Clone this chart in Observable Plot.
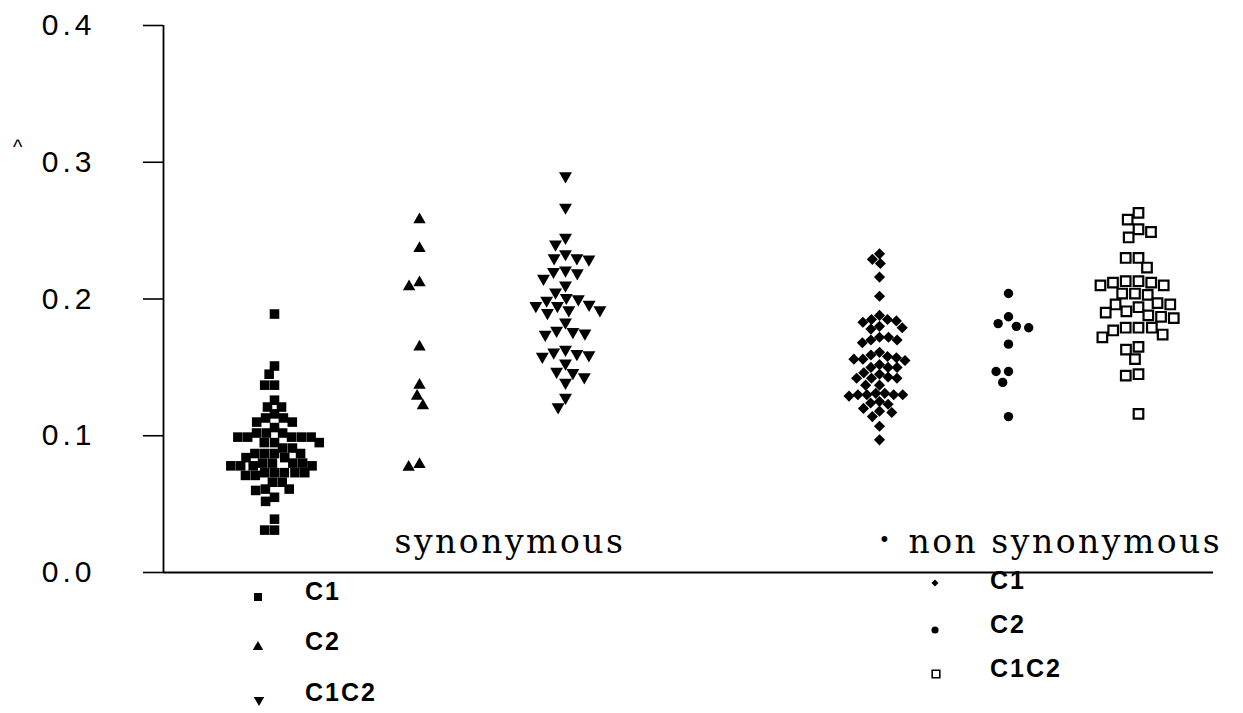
<!DOCTYPE html>
<html>
<head>
<meta charset="utf-8">
<script src="https://cdn.jsdelivr.net/npm/d3@7"></script>
<script src="https://cdn.jsdelivr.net/npm/@observablehq/plot@0.6"></script>
<style>
  body { margin: 0; background: #fff; }
  #wrap { position: relative; width: 1243px; height: 713px; overflow: hidden; background: #fff;
          font-family: "Liberation Sans", Arial, sans-serif; }
  #wrap svg.plot { position: absolute; left: 0; top: 0; }
  #wrap svg.plot g[font-family*="DejaVu Serif"] text { letter-spacing: 2.5px; }
  .leg { position: absolute; font-weight: bold; font-size: 25px; letter-spacing: 2px; line-height: 25px; color: #000; }
  .legsym { position: absolute; overflow: visible; }
  .hat { position: absolute; font-size: 20px; color: #000; }
</style>
</head>
<body>
<div id="wrap"></div>
<script>
// ---------- data ----------
const groups = ["synonymous", "non synonymous"];
const classes = ["C1", "C2", "C1C2"];
const yTicks = [0, 0.1, 0.2, 0.3, 0.4];

const synC1 = [0.189, 0.151, 0.145, 0.137, 0.137, 0.126, 0.121, 0.121, 0.116, 0.113, 0.113, 0.110, 0.110, 0.106,
  0.102, 0.102, 0.102, 0.099, 0.099, 0.099, 0.099, 0.099, 0.095, 0.095, 0.095, 0.091, 0.091, 0.087, 0.087, 0.087,
  0.087, 0.084, 0.084, 0.080, 0.080, 0.080, 0.080, 0.078, 0.078, 0.078, 0.078, 0.073, 0.073, 0.073, 0.073, 0.073,
  0.071, 0.071, 0.066, 0.066, 0.061, 0.061, 0.060, 0.055, 0.052, 0.039, 0.031, 0.031];
const synC2 = [0.258, 0.237, 0.212, 0.209, 0.165, 0.137, 0.129, 0.122, 0.079, 0.077];
const synC1C2 = [0.290, 0.267, 0.245, 0.240, 0.233, 0.230, 0.230, 0.229, 0.221, 0.220, 0.219, 0.215, 0.210, 0.205,
  0.201, 0.200, 0.199, 0.196, 0.195, 0.195, 0.192, 0.192, 0.190, 0.183, 0.177, 0.176, 0.175, 0.174, 0.163, 0.161,
  0.160, 0.159, 0.158, 0.153, 0.147, 0.146, 0.143, 0.139, 0.128, 0.121];
const nonC1 = [0.233, 0.229, 0.226, 0.216, 0.202, 0.188, 0.185, 0.185, 0.184, 0.183, 0.180, 0.179, 0.178, 0.172,
  0.172, 0.170, 0.170, 0.168, 0.161, 0.159, 0.158, 0.157, 0.156, 0.156, 0.155, 0.152, 0.150, 0.150, 0.150, 0.146,
  0.145, 0.143, 0.142, 0.142, 0.142, 0.137, 0.137, 0.131, 0.131, 0.130, 0.130, 0.130, 0.130, 0.129, 0.125, 0.124,
  0.123, 0.120, 0.118, 0.117, 0.114, 0.107, 0.097];
const nonC2 = [0.204, 0.187, 0.182, 0.180, 0.179, 0.167, 0.147, 0.147, 0.139, 0.114];
const nonC1C2 = [0.263, 0.258, 0.251, 0.249, 0.245, 0.230, 0.230, 0.223, 0.213, 0.213, 0.212, 0.212, 0.210, 0.210,
  0.204, 0.204, 0.203, 0.197, 0.196, 0.196, 0.194, 0.191, 0.190, 0.188, 0.187, 0.186, 0.179, 0.179, 0.179, 0.177,
  0.174, 0.172, 0.165, 0.163, 0.156, 0.145, 0.144, 0.116];

const seriesByKey = {
  "synonymous|C1": synC1, "synonymous|C2": synC2, "synonymous|C1C2": synC1C2,
  "non synonymous|C1": nonC1, "non synonymous|C2": nonC2, "non synonymous|C1C2": nonC1C2
};

// ---------- table built from the arrays ----------
const rows = [];
for (const g of groups) for (const c of classes) {
  const key = g + "|" + c;
  for (const v of seriesByKey[key]) rows.push({key, group: g, cls: c, v});
}
const keyList = groups.map(g => classes.map(c => g + "|" + c));
const fxDomain = [...keyList[0], "gap", ...keyList[1]];

// ---------- styles ----------
const sqrt3 = Math.sqrt(3);
const triangleDown = {
  draw(context, size) {
    const y = Math.sqrt(size / (sqrt3 * 3));
    context.moveTo(0, y * 2);
    context.lineTo(-sqrt3 * y, -y);
    context.lineTo(sqrt3 * y, -y);
    context.closePath();
  }
};
const markStyle = {
  "synonymous|C1":       {symbol: "square",   r: 5.4, fill: "black", stroke: "none", sw: 0,   pad: -1, dx: 36},
  "synonymous|C2":       {symbol: "triangle", r: 4.6, fill: "black", stroke: "none", sw: 0,   pad: 2, dx: 31},
  "synonymous|C1C2":     {symbol: triangleDown, r: 4.8, fill: "black", stroke: "none", sw: 0, pad: 2.5, dx: 27},
  "non synonymous|C1":   {symbol: "diamond2", r: 5.0, fill: "black", stroke: "none", sw: 0,   pad: -1, dx: 41},
  "non synonymous|C2":   {symbol: "circle",   r: 4.7, fill: "black", stroke: "none", sw: 0,   pad: 3, dx: 20},
  "non synonymous|C1C2": {symbol: "square",   r: 5.4, fill: "white", stroke: "black", sw: 2.2, pad: 2, dx: 0}
};

const dotMarks = fxDomain.filter(k => markStyle[k]).map(k => {
  const s = markStyle[k];
  return Plot.dot(rows.filter(d => d.key === k), Plot.dodgeX({
    anchor: "middle", padding: s.pad,
    fx: "key", y: "v", r: s.r, symbol: s.symbol,
    fill: s.fill, stroke: s.stroke, strokeWidth: s.sw, dx: s.dx
  }));
});

const groupLabels = [
  {key: "synonymous|C2", text: "synonymous", dx: 81, dy: -20, size: 33},
  {key: "non synonymous|C1", text: "\u2022", dx: 115, dy: -26, size: 20},
  {key: "non synonymous|C1", text: "non synonymous", dx: 145, dy: -20, size: 33}
];

const chart = Plot.plot({
  width: 1243,
  height: 578,
  marginTop: 25,
  marginBottom: 6,
  marginLeft: 160,
  marginRight: 28,
  style: {
    background: "white",
    fontFamily: "'Liberation Sans', Arial, sans-serif",
    fontSize: "30px",
    letterSpacing: "4px",
    overflow: "visible",
    color: "black"
  },
  fx: {domain: fxDomain, axis: null, padding: 0, label: null},
  x: {domain: [0, 1], axis: null},
  y: {domain: [0, 0.4], axis: null},
  marks: [
    Plot.ruleY(fxDomain.map(k => ({key: k})), {fx: "key", y: () => 0, stroke: "black", strokeWidth: 1.8}),
    Plot.ruleX([{key: fxDomain[0]}], {fx: "key", x: () => 0, y1: () => 0, y2: () => 0.4, stroke: "black", strokeWidth: 1.8}),
    Plot.axisY(yTicks, {
      anchor: "left", label: null, tickSize: 20, tickPadding: 48, strokeWidth: 1.6,
      tickFormat: d3.format(".1f"), fill: "black"
    }),
    ...dotMarks,
    ...groupLabels.map(l => Plot.text([l], {
      fx: "key", text: "text", frameAnchor: "bottom-left", textAnchor: "start", lineAnchor: "bottom",
      dx: l.dx, dy: l.dy, fontFamily: "'DejaVu Serif', 'Liberation Serif', serif", fontSize: l.size, fill: "black"
    }))
  ]
});
chart.classList.add("plot");
const wrap = document.getElementById("wrap");
wrap.appendChild(chart);

// ---------- legend (below the plot) ----------
const legendLayout = [
  {key: "synonymous|C1",       sx: 258, sy: 597, size: 64, tx: 305, ty: 591},
  {key: "synonymous|C2",       sx: 258, sy: 647, size: 48, tx: 305, ty: 641},
  {key: "synonymous|C1C2",     sx: 259, sy: 700, size: 48, tx: 305, ty: 692},
  {key: "non synonymous|C1",   sx: 935, sy: 583, size: 32, tx: 990, ty: 580},
  {key: "non synonymous|C2",   sx: 935, sy: 630, size: 40, tx: 990, ty: 624},
  {key: "non synonymous|C1C2", sx: 936, sy: 674, size: 58, tx: 990, ty: 668}
];
const d3Sym = {square: d3.symbolSquare, triangle: d3.symbolTriangle, diamond2: d3.symbolDiamond2, circle: d3.symbolCircle};
for (const L of legendLayout) {
  const s = markStyle[L.key];
  const type = typeof s.symbol === "string" ? d3Sym[s.symbol] : s.symbol;
  const svg = d3.create("svg").attr("class", "legsym").attr("width", 20).attr("height", 20)
    .style("left", (L.sx - 10) + "px").style("top", (L.sy - 10) + "px");
  svg.append("path").attr("transform", "translate(10,10)")
    .attr("d", d3.symbol().type(type).size(L.size)())
    .attr("fill", s.fill).attr("stroke", s.stroke === "none" ? null : s.stroke)
    .attr("stroke-width", s.stroke === "none" ? null : 1.6);
  wrap.appendChild(svg.node());
  const t = document.createElement("div");
  t.className = "leg";
  t.textContent = L.key.split("|")[1];
  t.style.left = L.tx + "px";
  t.style.top = (L.ty - 12) + "px";
  wrap.appendChild(t);
}
const hat = document.createElement("div");
hat.className = "hat";
hat.textContent = "^";
hat.style.left = "13px";
hat.style.top = "136px";
wrap.appendChild(hat);
</script>
</body>
</html>
